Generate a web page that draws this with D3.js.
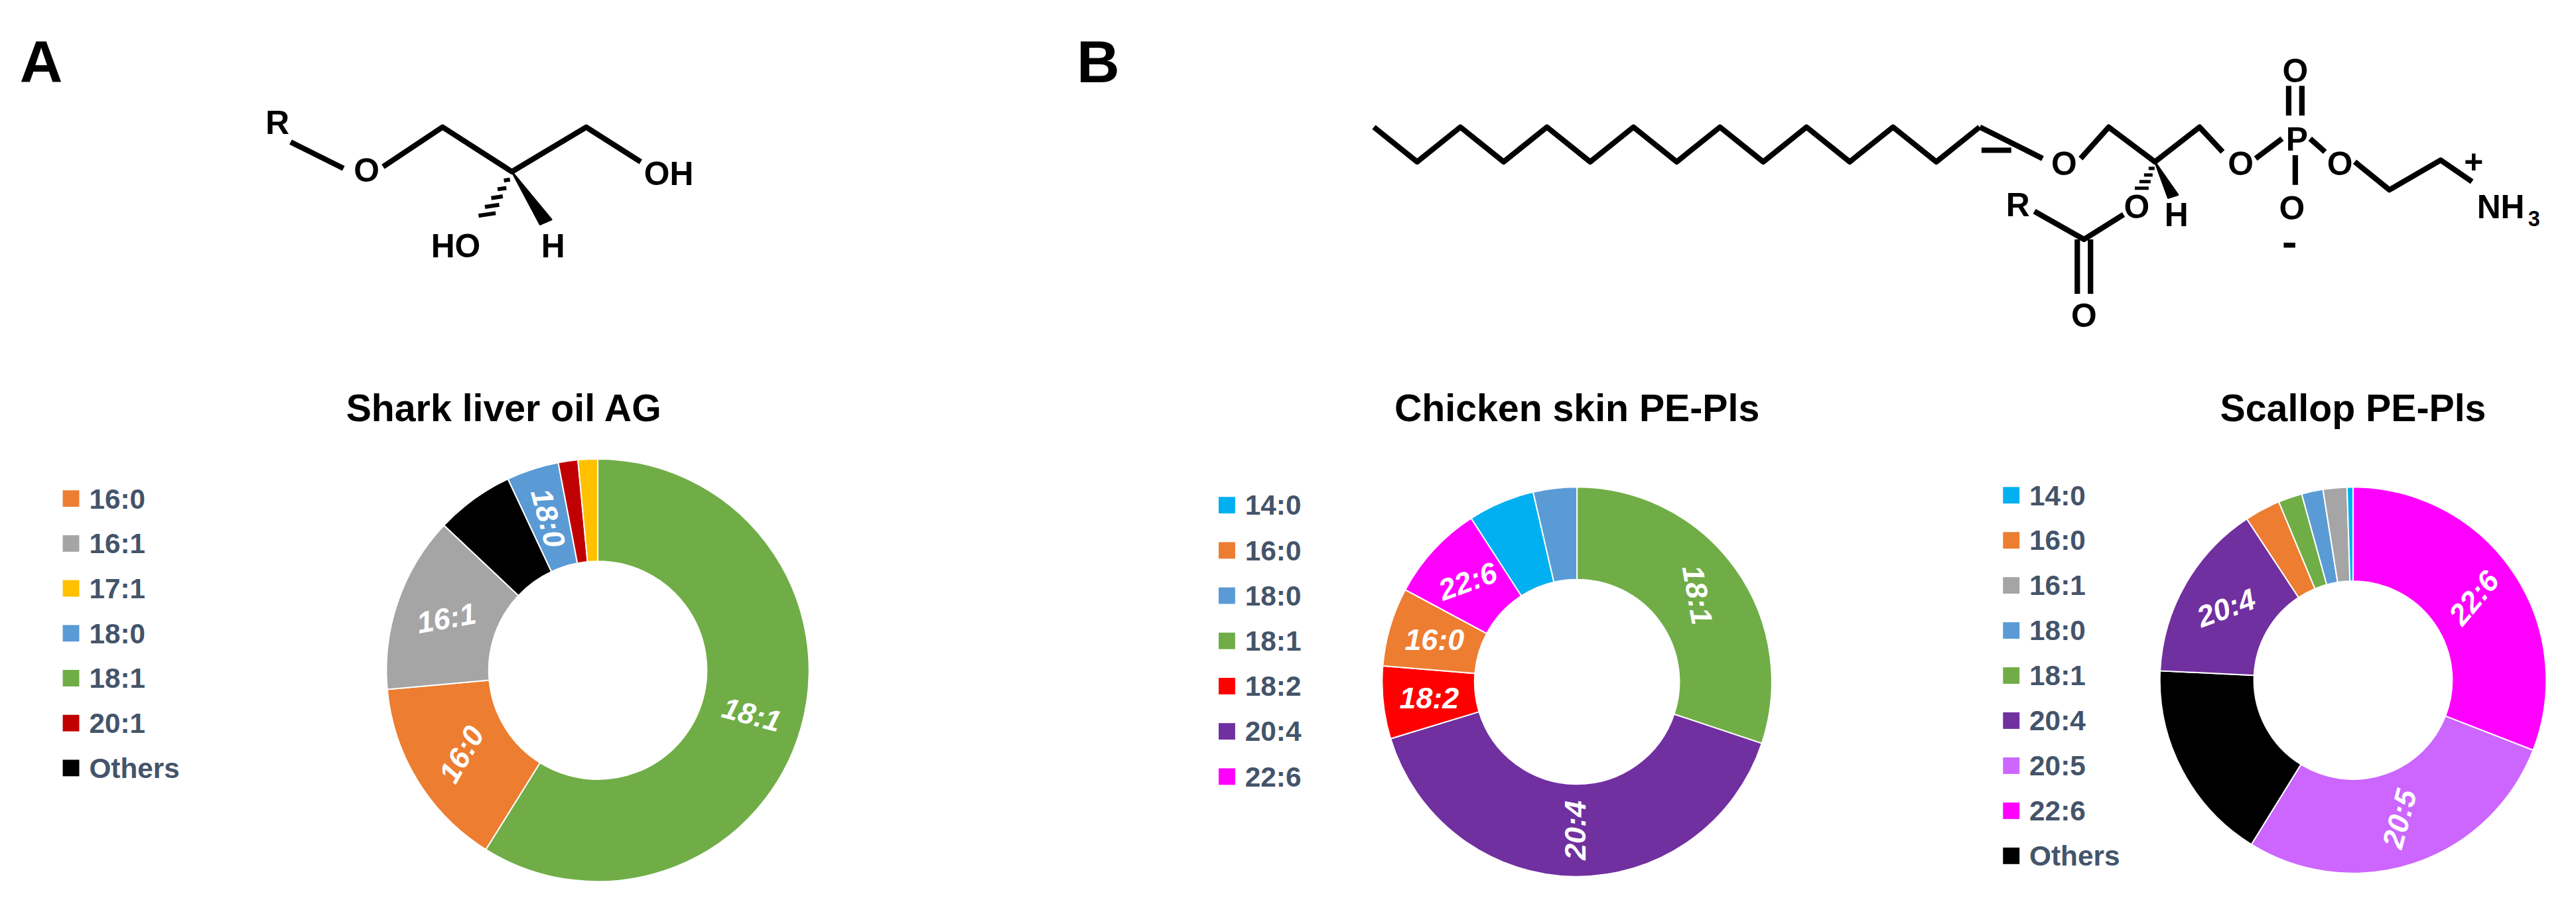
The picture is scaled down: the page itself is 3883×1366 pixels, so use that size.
<!DOCTYPE html>
<html><head><meta charset="utf-8">
<script src="https://cdn.jsdelivr.net/npm/d3@7"></script>
<style>body{margin:0;background:#fff}text{font-family:"Liberation Sans",Arial,sans-serif}</style>
</head><body><svg id="c" width="3883" height="1366"></svg>
<script>
// ---- data ----
const sharkCats   = ["18:1","16:0","16:1","Others","18:0","20:1","17:1"];
const sharkVals   = [59,14.7,13.5,6,4,1.5,1.5];
const sharkLegend = ["16:0","16:1","17:1","18:0","18:1","20:1","Others"];
const sharkLabels = ["18:1","16:0","16:1","18:0"];

const chickCats   = ["18:1","20:4","18:2","16:0","22:6","14:0","18:0"];
const chickVals   = [30,40,6,6.5,8,5.5,3.6];
const chickLegend = ["14:0","16:0","18:0","18:1","18:2","20:4","22:6"];
const chickLabels = ["18:1","20:4","18:2","16:0","22:6"];

const scalCats    = ["22:6","20:5","Others","20:4","16:0","18:1","18:0","16:1","14:0"];
const scalVals    = [31,28,17,15,3,2,1.8,2,0.5];
const scalLegend  = ["14:0","16:0","16:1","18:0","18:1","20:4","20:5","22:6","Others"];
const scalLabels  = ["22:6","20:5","20:4"];

const colors = {"14:0":"#00B0F0","16:0":"#ED7D31","16:1":"#A5A5A5","17:1":"#FFC000","18:0":"#5B9BD5",
  "18:1":"#70AD47","18:2":"#FF0000","20:1":"#C00000","20:4":"#7030A0","20:5":"#CC66FF","22:6":"#FF00FF","Others":"#000000"};
const labelRot = {shark:{"18:1":15,"16:0":-60,"16:1":-10,"18:0":75},
  chick:{"18:1":80,"20:4":-90,"18:2":0,"16:0":0,"22:6":-20},
  scal:{"22:6":-50,"20:5":-75,"20:4":-20}};

const S = 3883/1560;
const svg = d3.select("#c");
const g = svg.append("g").attr("transform",`scale(${S})`);

function donut(key,cats,vals,labels,cx,cy,ro,ri,title,tx,legend,lx,ly0,dy){
  const pie = d3.pie().sort(null).value(d=>d.v);
  const arcs = pie(cats.map((c,i)=>({c,v:vals[i]})));
  const arc = d3.arc().innerRadius(ri).outerRadius(ro);
  const gg = g.append("g").attr("transform",`translate(${cx},${cy})`);
  gg.selectAll("path").data(arcs).join("path").attr("d",arc)
    .attr("fill",d=>colors[d.data.c]).attr("stroke","#fff").attr("stroke-width",0.8);
  gg.selectAll("text.l").data(arcs.filter(a=>labels.includes(a.data.c))).join("text")
    .attr("transform",d=>{const [x,y]=arc.centroid(d);return `translate(${x},${y}) rotate(${labelRot[key][d.data.c]})`;})
    .attr("text-anchor","middle").attr("dy","0.35em").attr("fill","#fff")
    .attr("font-weight","bold").attr("font-style","italic").attr("font-size",18).text(d=>d.data.c);
  g.append("text").attr("x",tx).attr("y",255).attr("text-anchor","middle")
    .attr("font-weight","bold").attr("font-size",23).text(title);
  const lg = g.append("g");
  legend.forEach((c,i)=>{
    lg.append("rect").attr("x",lx).attr("y",ly0+i*dy-5).attr("width",10).attr("height",10).attr("fill",colors[c]);
    lg.append("text").attr("x",lx+16).attr("y",ly0+i*dy).attr("dy","0.35em").attr("font-weight","bold")
      .attr("font-size",17).attr("fill","#44546A").text(c);
  });
}
donut("shark",sharkCats,sharkVals,sharkLabels,362,406,128,66,"Shark liver oil AG",305,sharkLegend,38,302,27.2);
donut("chick",chickCats,chickVals,chickLabels,955,413,118,62,"Chicken skin PE-Pls",955,chickLegend,738,306,27.4);
donut("scal",scalCats,scalVals,scalLabels,1425,412,117,60,"Scallop PE-Pls",1425,scalLegend,1213,300,27.3);

// panel letters
g.append("text").attr("x",12).attr("y",50).attr("font-weight","bold").attr("font-size",36).text("A");
g.append("text").attr("x",652).attr("y",50).attr("font-weight","bold").attr("font-size",36).text("B");

// ---- chemical structures ----
const st = g.append("g").attr("stroke","#000").attr("stroke-width",3.3).attr("fill","none").attr("stroke-linejoin","round");
const ln = pts=>st.append("path").attr("d",d3.line()(pts));
const lab = (x,y,t,fs=20,anchor="middle")=>g.append("text").attr("x",x).attr("y",y).attr("text-anchor",anchor).attr("font-size",fs).attr("font-weight","bold").text(t);
// A
ln([[176,86],[208,102]]); ln([[232,101],[268,77],[310,104],[355,77],[388,98]]);
lab(168,81,"R"); lab(222,110,"O"); lab(405,112,"OH"); lab(276,156,"HO"); lab(335,156,"H");
st.append("path").attr("d","M310,104 L327,136 L334,133 Z").attr("fill","#000").attr("stroke-width",1);
for(let i=1;i<=5;i++){const t=i/6, x=310+(292-310)*t, y=104+(136-104)*t, w=1+t*5;
  st.append("line").attr("x1",x-w).attr("y1",y).attr("x2",x+w).attr("y2",y-w*0.3).attr("stroke-width",2.4);}
// B
const chain=[]; for(let i=0;i<15;i++){chain.push([832+i*26.2,i%2?98:77]);}
ln(chain);
ln([[1199,77],[1237,96]]); st.append("line").attr("x1",1200).attr("y1",91).attr("x2",1218).attr("y2",91);
ln([[1260,96],[1277,77],[1305,98],[1332,77],[1346,92]]);
lab(1250,106,"O"); lab(1357,106,"O"); lab(1391,91,"P"); lab(1417,106,"O");
ln([[1366,96],[1382,84]]); ln([[1399,84],[1408,92]]);
ln([[1386,70],[1386,52]]); ln([[1394,70],[1394,52]]); lab(1390,50,"O");
ln([[1390,94],[1390,112]]); lab(1388,133,"O"); g.append("rect").attr("x",1383).attr("y",147).attr("width",7).attr("height",3);
ln([[1426,98],[1447,115],[1478,97],[1497,110]]);
lab(1500,132,"NH",20,"start"); lab(1531,137,"3",13,"start"); lab(1498,105,"+",20);
st.append("path").attr("d","M1305,98 L1313,120 L1319,118 Z").attr("fill","#000").attr("stroke-width",1);
lab(1318,137,"H"); lab(1294,132,"O");
for(let i=1;i<=4;i++){const t=i/5, x=1305+(1295-1305)*t, y=98+(118-98)*t, w=1+t*4;
  st.append("line").attr("x1",x-w).attr("y1",y).attr("x2",x+w).attr("y2",y).attr("stroke-width",2);}
ln([[1286,130],[1262,145],[1232,128]]); lab(1222,131,"R");
ln([[1258,145],[1258,178]]); ln([[1266,145],[1266,178]]); lab(1262,198,"O");
</script></body></html>
